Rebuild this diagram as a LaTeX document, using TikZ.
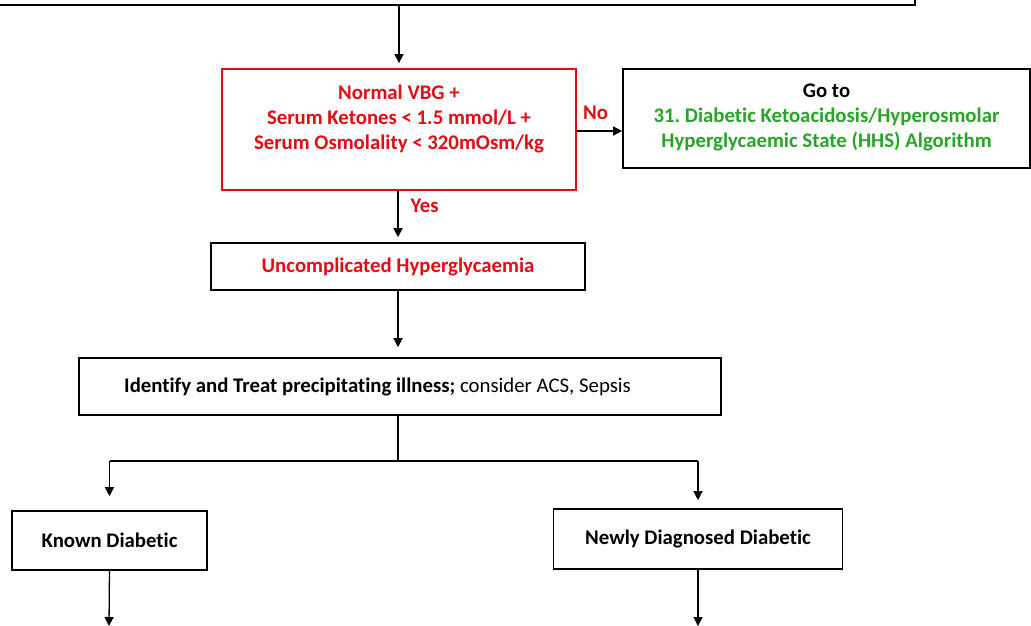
\documentclass[tikz,border=0pt]{standalone}
\usepackage{fontspec}
\setmainfont{Carlito}[Ligatures={NoCommon}]
\usetikzlibrary{arrows.meta,calc}
\definecolor{ared}{RGB}{228,12,20}
\definecolor{agreen}{RGB}{40,165,40}
\frenchspacing
\newcommand{\fsz}{\fontsize{20.8}{25}\selectfont}
\tikzset{
  box/.style={draw=black, line width=1.6pt, rectangle, inner sep=0pt},
  redbox/.style={draw=ared, line width=1.8pt, rectangle, inner sep=0pt},
  txt/.style={font=\fsz, align=center, inner sep=0pt},
  conn/.style={line width=1.3pt, draw=black},
  arr/.style={conn, -{Triangle[width=9pt,length=9pt]}},
}
\begin{document}
\begin{tikzpicture}[x=1pt,y=-1pt]
\useasboundingbox (0,0) rectangle (1031,626);
\clip (0,0) rectangle (1031,626);
\fill[white] (0,0) rectangle (1031,626);
% partially visible box at top
\node[box, minimum width=1000pt, minimum height=105pt] (top) at (415,-47.5) {};
% decision box
\node[redbox, minimum width=354pt, minimum height=121pt] (check) at (399,129.5) {};
\node[txt, text=ared, anchor=north, font=\fontsize{20.8}{25.2}\selectfont\bfseries] (checktxt) at (399,84.5)
  {Normal VBG +\\Serum Ketones < 1.5 mmol/L +\\Serum Osmolality < 320mOsm/kg};
% go to box
\node[box, minimum width=407pt, minimum height=99pt] (goto) at (826.5,118.5) {};
\node[txt, anchor=north, font=\fontsize{20.8}{24.6}\selectfont\bfseries] (gototxt) at (826.5,84)
  {Go to\\\textcolor{agreen}{31. Diabetic Ketoacidosis/Hyperosmolar}\\\textcolor{agreen}{Hyperglycaemic State (HHS) Algorithm}};
% uncomplicated
\node[box, minimum width=374pt, minimum height=47pt, font=\fsz\bfseries, text=ared] (unc) at (398,266.5) {Uncomplicated Hyperglycaemia};
% identify
\node[box, minimum width=642pt, minimum height=57pt] (ident) at (400,386.5) {};
\node[txt, anchor=west] (identtxt) at (124,386.5) {\textbf{Identify and Treat precipitating illness;} consider ACS, Sepsis};
% known / newly
\node[box, minimum width=195pt, minimum height=59pt, font=\fsz\bfseries] (known) at (109.5,540.5) {Known Diabetic};
\node[box, minimum width=289pt, minimum height=60pt, font=\fsz\bfseries] (newly) at (698,539) {Newly Diagnosed Diabetic};
% coordinates
\coordinate (split) at (398,461);
\coordinate (kend) at (109,626);
\coordinate (nend) at (698,626);
% connectors
\draw[arr, shorten >=5pt] (top.south -| check.north) -- (check.north);
\draw[arr] (check.east |- 0,131) -- (goto.west |- 0,131)
  node[midway, above=11pt, xshift=-4pt, font=\fsz\bfseries, text=ared, inner sep=0pt] (no) {No};
\draw[arr, shorten >=5pt] (check.south -| unc.north) -- (unc.north)
  node[pos=0.3, right=12pt, font=\fsz\bfseries, text=ared, inner sep=0pt] (yes) {Yes};
\draw[arr, shorten >=10pt] (unc.south) -- (ident.north -| unc.south);
\draw[conn] (ident.south -| split) -- (split);
\draw[conn] (split -| known.north) -- (split -| newly.north);
\draw[arr, shorten >=14pt] (split -| known.north) -- (known.north);
\draw[arr, shorten >=8pt] (split -| newly.north) -- (newly.north);
\draw[arr] (known.south) -- (kend);
\draw[arr] (newly.south) -- (nend);
\end{tikzpicture}
\end{document}
